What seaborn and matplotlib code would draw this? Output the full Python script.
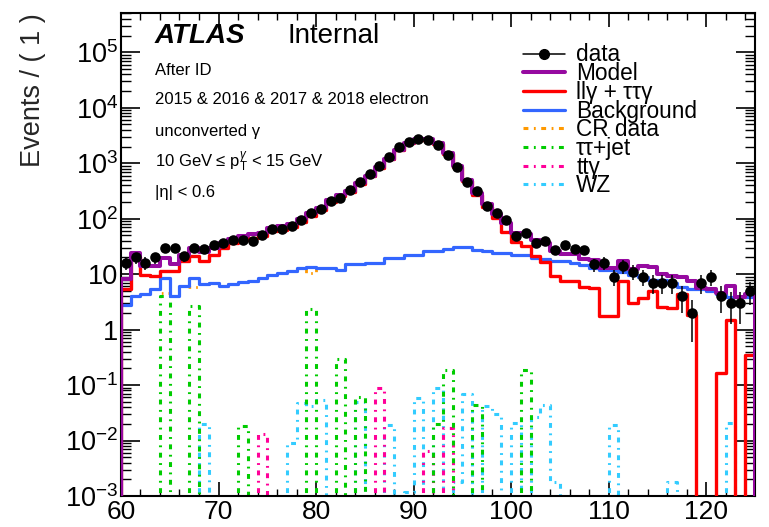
import numpy as np
import pandas as pd
import matplotlib
matplotlib.use("Agg")
import matplotlib.pyplot as plt
from matplotlib.lines import Line2D
from matplotlib.ticker import FixedLocator, MultipleLocator, LogLocator, NullFormatter
import seaborn as sns

# ---------------------------------------------------------------- binning
bin_edges = np.arange(60, 126, 1)            # m(ll gamma) bins, 1 GeV wide
x_range = (60, 125)
y_range = (1e-3, 5.1e5)

# ---------------------------------------------------------------- contents per bin
data_counts = [16, 20, 16, 20, 30, 30, 21, 30, 28, 33,
               37, 42, 42, 39, 51, 65, 65, 73, 95, 128,
               152, 204, 240, 333, 467, 646, 905, 1290, 1950, 2460,
               2750, 2570, 2150, 1420, 850, 467, 310, 170, 127, 93,
               49, 56, 37, 40, 27, 34, 28, 27, 15, 16,
               9, 14, 11, 9, 7, 7, 7, 4, 2, 7,
               9, 4, 3, 3, 5]

model = [8.3, 24, 14, 14.2, 19.6, 15.5, 22, 29.5, 25, 30,
         37, 43, 48, 52, 56, 68, 73, 80, 100, 125,
         155, 215, 270, 320, 440, 600, 840, 1200, 1750, 2300,
         2680, 2680, 2280, 1520, 880, 500, 295, 185, 122, 82,
         56, 54, 41, 36, 26, 23, 23, 18.5, 18, 13,
         12.8, 17.5, 12.2, 13.8, 13.6, 10, 9.4, 8.8, 7.4, 5.6,
         5.5, 4.6, 6.2, 3.8, 4.3]

llg_ttg = [5.5, 20, 9.8, 9.1, 11.2, 11.2, 17, 21, 17, 22.4,
           30, 36.5, 42, 45, 48, 59, 63, 70, 88, 112,
           142, 202, 258, 305, 425, 585, 822, 1180, 1730, 2278,
           2655, 2655, 2255, 1492, 850, 470, 270, 165, 103, 58,
           38, 32, 21, 16.5, 9.1, 7.4, 7.4, 5.9, 5.6, 1.74,
           1.74, 7.4, 3.0, 3.7, 4.9, 2.6, 2.45, 4.3, 1.86, 0,
           0, 0.166, 1.5, 0, 0.35]

background = [2.8, 4.0, 4.3, 5.3, 8.5, 4.0, 6.0, 8.5, 6.6, 6.8,
              6.0, 6.6, 7.2, 7.6, 8.5, 9.8, 10.5, 11.2, 12.9, 13.2,
              13.0, 12.9, 11.7, 15.3, 15.3, 15.9, 15.9, 19.6, 19.6, 22.4,
              22.4, 26.5, 26.5, 28.8, 30.4, 30.4, 27.6, 25.8, 24.1, 24.1,
              22.4, 22.4, 19.6, 18.5, 17.0, 17.0, 15.9, 14.4, 12.9, 11.7,
              11.7, 10.8, 9.8, 8.9, 7.9, 7.9, 6.9, 5.9, 5.4, 5.4,
              4.9, 4.3, 3.8, 3.8, 3.8]

cr_data = [2.8, 4.0, 4.3, 5.3, 4.6, 4.0, 6.0, 5.8, 6.6, 6.8,
           6.0, 6.6, 7.2, 7.6, 8.5, 9.8, 10.5, 11.2, 12.9, 10.5,
           13.0, 12.9, 11.7, 15.3, 15.3, 15.9, 15.9, 19.6, 19.6, 22.4,
           22.4, 26.5, 26.5, 28.8, 30.4, 30.4, 27.6, 25.8, 24.1, 24.1,
           22.4, 22.4, 19.6, 18.5, 17.0, 17.0, 15.9, 14.4, 12.9, 11.7,
           11.7, 10.8, 9.8, 8.9, 7.9, 7.9, 6.9, 5.9, 5.4, 5.4,
           4.9, 4.3, 3.8, 3.8, 3.8]

tautau_jet = [0, 0, 0, 0, 4.0, 0, 0, 2.7, 0, 0,
              0, 0, 0.018, 0, 0, 0, 0, 0, 0, 2.4,
              0, 0, 0.29, 0, 0.061, 0, 0, 0, 0, 0,
              0, 0, 0.02, 0.19, 0, 0, 0.043, 0, 0, 0,
              0, 0.19, 0, 0, 0, 0, 0, 0, 0, 0,
              0, 0, 0, 0, 0, 0, 0, 0, 0, 0,
              0, 0, 0, 0, 0]

ttgamma = [0, 0, 0, 0, 0, 0, 0, 0, 0, 0,
           0, 0, 0, 0, 0.013, 0, 0, 0, 0, 0,
           0, 0, 0, 0, 0, 0, 0.089, 0, 0, 0,
           0, 0.0065, 0, 0.017, 0, 0, 0, 0, 0, 0,
           0, 0, 0, 0, 0, 0, 0, 0, 0, 0,
           0, 0, 0, 0, 0, 0, 0, 0, 0, 0,
           0, 0, 0, 0, 0]

wz = [0, 0, 0, 0, 0, 0, 0, 0, 0.02, 0,
      0, 0, 0, 0, 0, 0, 0, 0.009, 0.048, 0.042,
      0.053, 0, 0, 0, 0.05, 0, 0, 0.019, 0, 0.0012,
      0.059, 0, 0.089, 0, 0.0018, 0.07, 0, 0.042, 0.03, 0,
      0.021, 0, 0.027, 0.043, 0.0018, 0, 0, 0, 0, 0,
      0.019, 0, 0, 0, 0, 0, 0.0018, 0, 0, 0,
      0, 0, 0.021, 0, 0]

legend_labels = ["data", "Model", "llγ + ττγ", "Background",
                 "CR data", "ττ+jet", "ttγ", "WZ"]

x_ticks = [60, 70, 80, 90, 100, 110, 120]
x_tick_labels = ["60", "70", "80", "90", "100", "110", "120"]
y_ticks = [1e-3, 1e-2, 1e-1, 1, 10, 1e2, 1e3, 1e4, 1e5]
y_tick_labels = [r"$10^{-3}$", r"$10^{-2}$", r"$10^{-1}$", "1", "10",
                 r"$10^{2}$", r"$10^{3}$", r"$10^{4}$", r"$10^{5}$"]

info_lines = ["After ID",
              "2015 & 2016 & 2017 & 2018 electron",
              "unconverted γ",
              r"10 GeV ≤ $\mathrm{p}_{\mathrm{T}}^{\gamma}$ < 15 GeV",
              "|η| < 0.6"]

# ---------------------------------------------------------------- style
sns.set_theme(style="ticks")
plt.rcParams.update({
    "font.family": ["Liberation Sans", "DejaVu Sans"],
    "mathtext.fontset": "custom",
    "mathtext.rm": "Liberation Sans",
    "mathtext.it": "Liberation Sans:italic",
    "mathtext.bf": "Liberation Sans:bold",
    "axes.linewidth": 1.5,
    "axes.edgecolor": "black",
    "text.color": "black",
    "xtick.color": "black",
    "ytick.color": "black",
})

purple = "#960aa0"
red = "#ff0000"
blue = "#3366ff"
orange = "#ff9900"
green = "#00cc00"
pink = "#ff0099"
cyan = "#33ccff"
dashdot = (0, (1.6, 1.8, 0.6, 1.8))

fig = plt.figure(figsize=(7.69, 5.27), dpi=100)
ax = fig.add_axes([0.1573, 0.0588, 0.8245, 0.9165])
ax.set_yscale("log")

# one empty bin on each side so every histogram rises from and falls back to zero
centers_padded = np.arange(bin_edges[0] - 0.5, bin_edges[-1] + 1.0, 1.0)


def draw_hist(values, color, lw, ls="-", z=2):
    frame = pd.DataFrame({
        "mass": centers_padded,
        "events": np.concatenate([[0.0], np.asarray(values, float), [0.0]]),
    })
    sns.histplot(data=frame, x="mass", weights="events", binwidth=1,
                 binrange=(bin_edges[0] - 1, bin_edges[-1] + 1),
                 element="step", fill=False, color=color, linewidth=lw,
                 linestyle=ls, zorder=z, ax=ax)


draw_hist(wz, cyan, 2.2, dashdot, 2)
draw_hist(ttgamma, pink, 2.2, dashdot, 2)
draw_hist(tautau_jet, green, 2.2, dashdot, 2)
draw_hist(cr_data, orange, 2.0, dashdot, 3)
draw_hist(background, blue, 2.3, "-", 4)
draw_hist(llg_ttg, red, 2.4, "-", 5)
draw_hist(model, purple, 2.9, "-", 6)

centers = 0.5 * (bin_edges[:-1] + bin_edges[1:])
counts = np.asarray(data_counts, float)
ax.errorbar(centers, counts, yerr=np.sqrt(counts), fmt="none",
            ecolor="black", elinewidth=1.1, capsize=0, zorder=9)
sns.scatterplot(x=centers, y=counts, color="black", s=58, marker="o",
                edgecolor="black", linewidth=0, zorder=10, ax=ax, legend=False)

# ---------------------------------------------------------------- axes
ax.set_xlim(*x_range)
ax.set_ylim(*y_range)
ax.xaxis.set_major_locator(FixedLocator(x_ticks))
ax.set_xticklabels(x_tick_labels)
ax.xaxis.set_minor_locator(MultipleLocator(2))
ax.yaxis.set_major_locator(FixedLocator(y_ticks))
ax.set_yticklabels(y_tick_labels)
ax.yaxis.set_minor_locator(LogLocator(base=10, subs=np.arange(2, 10), numticks=30))
ax.yaxis.set_minor_formatter(NullFormatter())

ax.tick_params(axis="both", which="both", direction="in", top=True, right=True)
ax.tick_params(axis="y", which="major", length=14, width=1.2, labelsize=19.5, pad=2)
ax.tick_params(axis="y", which="minor", length=7, width=1.0)
ax.tick_params(axis="x", which="major", length=10, width=1.2, labelsize=19, pad=3)
ax.tick_params(axis="x", which="minor", length=5, width=1.0)
for side in ["left", "right", "top", "bottom"]:
    ax.spines[side].set_visible(True)
    ax.spines[side].set_linewidth(1.5)

ax.set_xlabel("")
ax.set_ylabel("Events / ( 1 )", fontsize=19.5, loc="top")
ax.yaxis.set_label_coords(-0.118, 1.0)

# ---------------------------------------------------------------- labels
ax.text(0.0536, 0.938, "ATLAS", transform=ax.transAxes, fontsize=20,
        fontweight="bold", fontstyle="italic", va="baseline")
ax.text(0.2634, 0.938, "Internal", transform=ax.transAxes, fontsize=20,
        va="baseline")
for text, yb in zip(info_lines, [0.8716, 0.8116, 0.745, 0.682, 0.6197]):
    ax.text(0.0536, yb, text, transform=ax.transAxes, fontsize=12, va="baseline")

handles = [
    Line2D([], [], color="black", marker="o", markersize=7, lw=1.1),
    Line2D([], [], color=purple, lw=2.9),
    Line2D([], [], color=red, lw=2.4),
    Line2D([], [], color=blue, lw=2.3),
    Line2D([], [], color=orange, lw=2.2, ls=dashdot),
    Line2D([], [], color=green, lw=2.2, ls=dashdot),
    Line2D([], [], color=pink, lw=2.2, ls=dashdot),
    Line2D([], [], color=cyan, lw=2.2, ls=dashdot),
]
ax.legend(handles, legend_labels, loc="upper left", bbox_to_anchor=(0.634, 0.937),
          frameon=False, fontsize=16.3, handlelength=1.85, handletextpad=0.5,
          labelspacing=-0.19, borderpad=0, borderaxespad=0)

fig.savefig("out.png", dpi=100)
